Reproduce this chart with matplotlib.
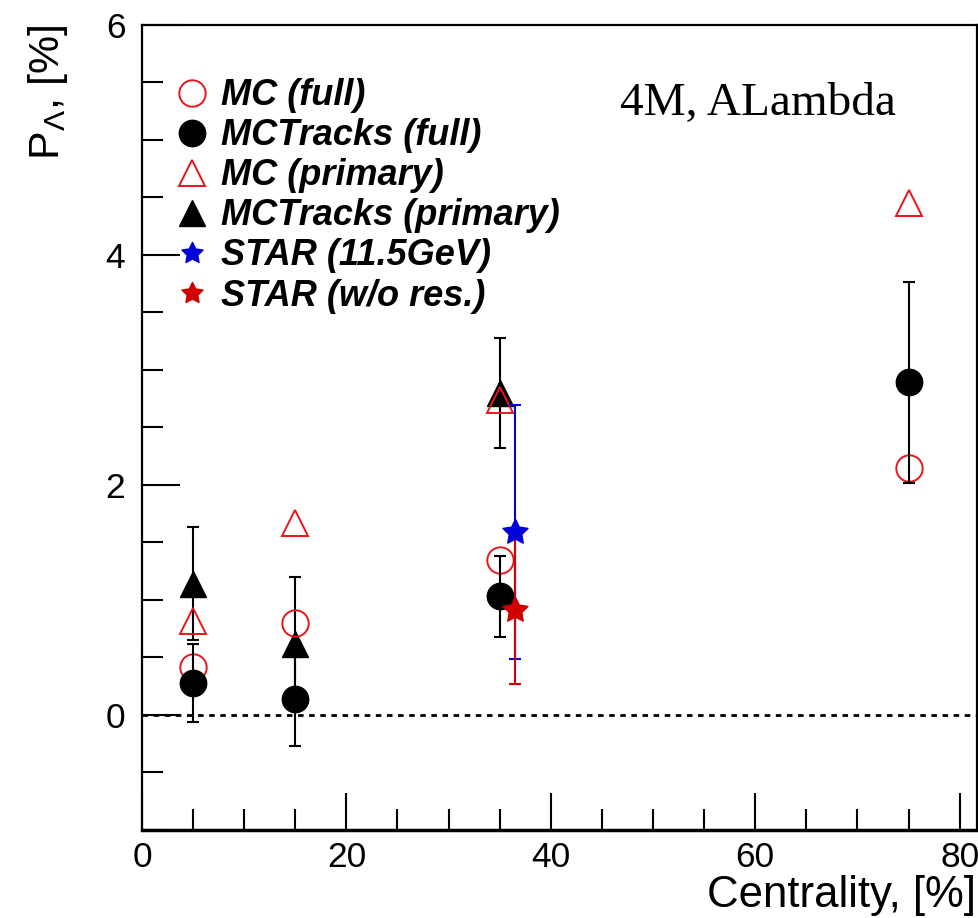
import numpy as np
import matplotlib.pyplot as plt
from matplotlib.ticker import MultipleLocator
from matplotlib.lines import Line2D
from matplotlib.path import Path

plt.rcParams['font.family'] = ['Liberation Sans', 'DejaVu Sans']
plt.rcParams['mathtext.fontset'] = 'custom'
plt.rcParams['mathtext.rm'] = 'Liberation Sans'
plt.rcParams['mathtext.it'] = 'Liberation Sans:italic'

# centrality bins, %
cent = [5, 15, 35, 75]

mc_full = [0.42, 0.80, 1.35, 2.15]
mctr_full = [0.28, 0.14, 1.03, 2.89]
mctr_full_err = [0.34, 0.41, 0.35, 0.87]
mc_prim = [0.82, 1.67, 2.74, 4.45]
mctr_prim = [1.14, 0.62, 2.80]
mctr_prim_err = [0.49, 0.58, 0.48]

star_cent = [36.5]
star = [1.59]
star_err = [1.10]
star_nores = [0.91]
star_nores_err = [0.64]

# fat five-pointed star like ROOT marker 29
ang = np.pi / 2 + np.arange(10) * np.pi / 5
rad = np.where(np.arange(10) % 2 == 0, 1.0, 0.5)
verts = np.column_stack([rad * np.cos(ang), rad * np.sin(ang)])
star_marker = Path(np.vstack([verts, verts[:1]]), closed=True)

fig = plt.figure(figsize=(9.79, 9.18), dpi=100)
ax = fig.add_axes([0.145, 0.096, 0.853, 0.877])

ms = 19
red = '#e8161b'
blue = '#0000d8'
dred = '#d00000'
ebkw = dict(elinewidth=1.5, capsize=4, capthick=1.5)

ax.plot(cent, mc_full, 'o', mfc='none', mec=red, mew=1.4, ms=ms, zorder=3)
ax.errorbar(cent, mctr_full, yerr=mctr_full_err, fmt='o', color='black', ms=ms, zorder=4, **ebkw)
ax.plot(cent, mc_prim, '^', mfc='none', mec=red, mew=1.4, ms=ms, zorder=3)
ax.errorbar(cent[:3], mctr_prim, yerr=mctr_prim_err, fmt='^', color='black', ms=ms, zorder=2, **ebkw)
ax.errorbar(star_cent, star, yerr=star_err, fmt='none', ecolor=blue, zorder=5, **ebkw)
ax.plot(star_cent, star, ls='none', marker=star_marker, color=blue, ms=19, zorder=6)
ax.errorbar(star_cent, star_nores, yerr=star_nores_err, fmt='none', ecolor=dred, zorder=5, **ebkw)
ax.plot(star_cent, star_nores, ls='none', marker=star_marker, color=dred, ms=19, zorder=6)

ax.axhline(0, color='black', ls=(0, (2, 2)), lw=2, zorder=1)

ax.set_xlim(0, 81.7)
ax.set_ylim(-1, 6)
ax.xaxis.set_major_locator(MultipleLocator(20))
ax.xaxis.set_minor_locator(MultipleLocator(5))
ax.yaxis.set_major_locator(MultipleLocator(2))
ax.yaxis.set_minor_locator(MultipleLocator(0.5))
ax.tick_params(which='both', direction='in', top=False, right=False, labelsize=25.5, width=1.5)
ax.tick_params(which='major', length=27)
ax.tick_params(which='minor', length=15)
ax.tick_params(axis='x', pad=8)
ax.tick_params(axis='y', pad=12)
for s in ax.spines.values():
    s.set_linewidth(1.6)
ax.spines['bottom'].set_linewidth(2.5)

fig.text(0.997, 0.002, 'Centrality, [%]', ha='right', va='bottom', fontsize=31.5)
fig.text(0.049, 0.973, r'P$_{\Lambda}$, [%]', rotation=90, ha='center', va='top', fontsize=31)

ax.text(0.573, 0.888, '4M, ALambda', transform=ax.transAxes, fontsize=34,
        family=['Liberation Serif', 'DejaVu Serif'], va='baseline')

handles = [
    Line2D([], [], ls='none', marker='o', mfc='none', mec=red, mew=1.4, ms=ms),
    Line2D([], [], ls='none', marker='o', color='black', ms=ms),
    Line2D([], [], ls='none', marker='^', mfc='none', mec=red, mew=1.4, ms=ms),
    Line2D([], [], ls='none', marker='^', color='black', ms=ms),
    Line2D([], [], ls='none', marker=star_marker, color=blue, ms=16),
    Line2D([], [], ls='none', marker=star_marker, color=dred, ms=16),
]
labels = ['MC (full)', 'MCTracks (full)', 'MC (primary)', 'MCTracks (primary)',
          'STAR (11.5GeV)', 'STAR (w/o res.)']
ax.legend(handles, labels, loc='upper left', bbox_to_anchor=(0.0105, 0.965), frameon=False,
          prop={'size': 26, 'weight': 'bold', 'style': 'italic'},
          handlelength=0.9, handletextpad=0.34, labelspacing=0.14, borderaxespad=0.3)

fig.savefig('out.png', dpi=100)
